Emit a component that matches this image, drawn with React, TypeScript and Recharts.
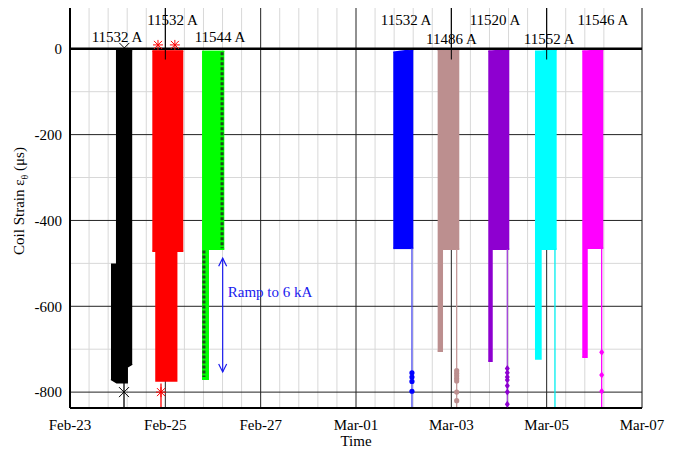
import { ComposedChart, Area, Line, Scatter, XAxis, YAxis, CartesianGrid } from 'recharts';

// time is in days after Feb-23 00:00
const X_TICKS = [0, 2, 4, 6, 8, 10, 12];
const X_LABELS = ['Feb-23', 'Feb-25', 'Feb-27', 'Mar-01', 'Mar-03', 'Mar-05', 'Mar-07'];
const Y_TICKS = [0, -200, -400, -600, -800];
const Y_MINOR = [-100, -300, -500, -700];
const Y_DOMAIN = [-837, 95];

// band outlines: [time, top strain, bottom strain]
const BAND_BLACK = [[0.86, -502, -770], [0.98, -502, -778], [0.98, -4, -778], [1.2, -4, -778], [1.2, -4, -742], [1.305, -4, -735]];
const BAND_RED = [[1.727, -5, -472], [1.804, -5, -472], [1.804, -5, -774], [2.238, -5, -774], [2.238, -5, -472], [2.377, -5, -472]];
const BAND_GREEN = [[2.77, -6, -770], [2.9, -6, -770], [2.9, -6, -467], [3.237, -6, -467]];
const BAND_BLUE = [[6.782, -8, -465], [7.202, -2, -465]];
const BAND_BROWN = [[7.713, -3, -705], [7.81, -3, -705], [7.81, -3, -467], [8.167, -2, -467]];
const BAND_PURPLE = [[8.775, -5, -728], [8.853, -5, -728], [8.853, -5, -467], [9.216, -2, -467]];
const BAND_CYAN = [[9.755, -6, -723], [9.88, -6, -723], [9.88, -6, -467], [10.21, -2, -467]];
const BAND_MAGENTA = [[10.747, -5, -719], [10.846, -5, -719], [10.846, -5, -465], [11.188, -2, -465]];
const BANDS = [BAND_BLACK, BAND_RED, BAND_GREEN, BAND_BLUE, BAND_BROWN, BAND_PURPLE, BAND_CYAN, BAND_MAGENTA];
const BAND_COLORS = ['#000000', '#ff0000', '#00ff00', '#0000ff', '#bc8f8f', '#8e00d0', '#00ffff', '#ff00ff'];

// thin lines below each band
const TAIL_T = [1.133, 1.909, 7.174, 8.112, 9.174, 10.174, 11.154];
const TAIL_TOP = [-770, -780, -465, -467, -467, -467, -465];
const TAIL_COLORS = ['#000000', '#ff0000', '#4a4aee', '#c49a9a', '#a040d8', '#00eeee', '#ff00ff'];

// isolated points at the bottom
const BLUE_DOTS = [-755, -765, -775, -798];
const BROWN_DOTS = [-750, -756, -762, -768, -774, -800, -820];
const PURPLE_DOTS = [-745, -755, -765, -772, -785, -800, -828];
const MAGENTA_DOTS = [-707, -760, -798];

// run current labels
const LABEL_TEXT = ['11532 A', '11532 A', '11544 A', '11532 A', '11486 A', '11520 A', '11552 A', '11546 A'];
const LABEL_T = [0.986, 2.15, 3.147, 7.05, 8.003, 8.916, 10.05, 11.18];
const LABEL_V = [28, 66, 28, 68, 22, 68, 22, 68];
const LEADER_T = [2, 8, 10];

const RAMP_T = 3.203;
const RAMP_V = [-488, -753];

const FONT = 'Liberation Serif, Times New Roman, serif';
const minorX = Array.from({ length: 31 }, (_, i) => +(i * 0.4).toFixed(1));

const toRows = (b: number[][]) => b.map(([t, hi, lo]) => ({ t, v: [lo, hi] }));

const crossShape = (p: any) => (
  <g>
    <line x1={p.cx - 5} y1={p.cy - 5} x2={p.cx + 5} y2={p.cy + 5} stroke={p.fill} strokeWidth={1} />
    <line x1={p.cx - 5} y1={p.cy + 5} x2={p.cx + 5} y2={p.cy - 5} stroke={p.fill} strokeWidth={1} />
  </g>
);
const starShape = (p: any) => (
  <g stroke={p.fill} strokeWidth={1}>
    <line x1={p.cx - 5} y1={p.cy} x2={p.cx + 5} y2={p.cy} />
    <line x1={p.cx} y1={p.cy - 5} x2={p.cx} y2={p.cy + 5} />
    <line x1={p.cx - 4} y1={p.cy - 4} x2={p.cx + 4} y2={p.cy + 4} />
    <line x1={p.cx - 4} y1={p.cy + 4} x2={p.cx + 4} y2={p.cy - 4} />
  </g>
);
const dotShape = (p: any) => <circle cx={p.cx} cy={p.cy} r={2.6} fill={p.fill} />;
const diamondShape = (p: any) => (
  <path d={`M${p.cx},${p.cy - 3.5} L${p.cx + 2.5},${p.cy} L${p.cx},${p.cy + 3.5} L${p.cx - 2.5},${p.cy} Z`} fill={p.fill} />
);
const labelShape = (p: any) => (
  <text x={p.cx} y={p.cy} textAnchor="middle" dominantBaseline="central" fontFamily={FONT} fontSize={15} fill="#000">
    {p.payload.label}
  </text>
);
const rampTextShape = (p: any) => (
  <text x={p.cx} y={p.cy} dominantBaseline="central" fontFamily={FONT} fontSize={15} fill="#1a1aee">
    Ramp to 6 kA
  </text>
);
const arrowDot = (p: any) => {
  const d = p.index === 0 ? -1 : 1;
  return (
    <path key={'a' + p.index} d={`M${p.cx - 4},${p.cy - d * 8} L${p.cx},${p.cy} L${p.cx + 4},${p.cy - d * 8}`}
      fill="none" stroke="#1a1aee" strokeWidth={1.2} />
  );
};

const YLabel = ({ viewBox }: any) => {
  const x = 24;
  const y = viewBox.y + viewBox.height / 2 - 7;
  return (
    <text x={x} y={y} transform={`rotate(-90, ${x}, ${y})`} textAnchor="middle" fontFamily={FONT} fontSize={15} fill="#000">
      Coil Strain ε<tspan fontSize={10} dy={4}>θ</tspan><tspan dy={-4}>{' (μs)'}</tspan>
    </text>
  );
};

export default function App() {
  const labels = LABEL_TEXT.map((label, i) => ({ t: LABEL_T[i], v: LABEL_V[i], label }));
  const dots = (t: number, vals: number[]) => vals.map((v) => ({ t, v }));
  return (
    <div style={{ position: 'absolute', left: 0, top: 0, background: '#fff', fontFamily: FONT }}>
      <ComposedChart width={680} height={449} margin={{ top: 8, right: 38, bottom: 0, left: 0 }}>
        <CartesianGrid verticalValues={minorX} horizontalValues={Y_MINOR} stroke="#d8d8d8" strokeWidth={1} />
        <CartesianGrid verticalValues={X_TICKS} horizontalValues={Y_TICKS} stroke="#222" strokeWidth={1} />
        <XAxis
          dataKey="t"
          type="number"
          domain={[0, 12]}
          ticks={X_TICKS}
          tickFormatter={(d: number) => X_LABELS[X_TICKS.indexOf(d)]}
          allowDataOverflow
          height={41}
          tickSize={0}
          tickMargin={11}
          axisLine={{ stroke: '#000', strokeWidth: 2 }}
          tick={{ fill: '#000', fontSize: 15, fontFamily: FONT }}
          label={{ value: 'Time', position: 'insideBottom', offset: 3, fill: '#000', fontSize: 15, fontFamily: FONT }}
        />
        <XAxis xAxisId="top" orientation="top" type="number" domain={[0, 12]} height={0} tick={false} tickLine={false}
          axisLine={{ stroke: '#000', strokeWidth: 2 }} />
        <YAxis
          dataKey="v"
          type="number"
          domain={Y_DOMAIN}
          ticks={Y_TICKS}
          allowDataOverflow
          width={70}
          tickSize={0}
          tickMargin={8}
          axisLine={{ stroke: '#000', strokeWidth: 2 }}
          tick={{ fill: '#000', fontSize: 15, fontFamily: FONT }}
          label={{ content: <YLabel /> }}
        />
        <YAxis yAxisId="right" orientation="right" type="number" domain={Y_DOMAIN} width={0} tick={false} tickLine={false}
          axisLine={{ stroke: '#000', strokeWidth: 2 }} />

        {BANDS.map((b, i) => (
          <Area key={'band' + i} data={toRows(b)} dataKey="v" type="linear" fill={BAND_COLORS[i]} fillOpacity={1}
            stroke={BAND_COLORS[i]} strokeWidth={1.5} isAnimationActive={false} />
        ))}

        {TAIL_T.map((t, i) => (
          <Line key={'tail' + i} data={[{ t, v: TAIL_TOP[i] }, { t, v: Y_DOMAIN[0] }]} dataKey="v" stroke={TAIL_COLORS[i]}
            strokeWidth={1.3} dot={false} isAnimationActive={false} />
        ))}

        {/* triangle marker columns on the green run */}
        <Line data={[{ t: 3.19, v: -8 }, { t: 3.19, v: -465 }]} dataKey="v" stroke="#1f4a1f" strokeWidth={3}
          strokeDasharray="3 2" dot={false} isAnimationActive={false} />
        <Line data={[{ t: 2.81, v: -470 }, { t: 2.81, v: -765 }]} dataKey="v" stroke="#1f4a1f" strokeWidth={3}
          strokeDasharray="3 2" dot={false} isAnimationActive={false} />

        {/* zero line */}
        <Line data={[{ t: 0, v: 0 }, { t: 12, v: 0 }]} dataKey="v" stroke="#000" strokeWidth={2.5} dot={false} isAnimationActive={false} />

        {LEADER_T.map((t, i) => (
          <Line key={'lead' + i} data={[{ t, v: Y_DOMAIN[1] }, { t, v: -25 }]} dataKey="v" stroke="#000" strokeWidth={1}
            dot={false} isAnimationActive={false} />
        ))}

        <Line data={[{ t: RAMP_T, v: RAMP_V[0] }, { t: RAMP_T, v: RAMP_V[1] }]} dataKey="v" stroke="#1a1aee" strokeWidth={1.2}
          dot={arrowDot} isAnimationActive={false} />

        <Scatter data={dots(7.174, BLUE_DOTS)} dataKey="v" fill="#0000ff" shape={dotShape} isAnimationActive={false} />
        <Scatter data={dots(8.112, BROWN_DOTS)} dataKey="v" fill="#bc8f8f" shape={dotShape} isAnimationActive={false} />
        <Scatter data={dots(9.174, PURPLE_DOTS)} dataKey="v" fill="#8e00d0" shape={diamondShape} isAnimationActive={false} />
        <Scatter data={dots(11.154, MAGENTA_DOTS)} dataKey="v" fill="#ff00ff" shape={diamondShape} isAnimationActive={false} />
        <Scatter data={[{ t: 1.133, v: -800 }, { t: 1.14, v: 2 }]} dataKey="v" fill="#000" shape={crossShape} isAnimationActive={false} />
        <Scatter data={[{ t: 1.909, v: -800 }, { t: 1.846, v: 9 }, { t: 2.2, v: 9 }]} dataKey="v" fill="#ff0000" shape={starShape}
          isAnimationActive={false} />

        <Scatter data={labels} dataKey="v" shape={labelShape} isAnimationActive={false} />
        <Scatter data={[{ t: 3.31, v: -567 }]} dataKey="v" shape={rampTextShape} isAnimationActive={false} />
      </ComposedChart>
    </div>
  );
}
